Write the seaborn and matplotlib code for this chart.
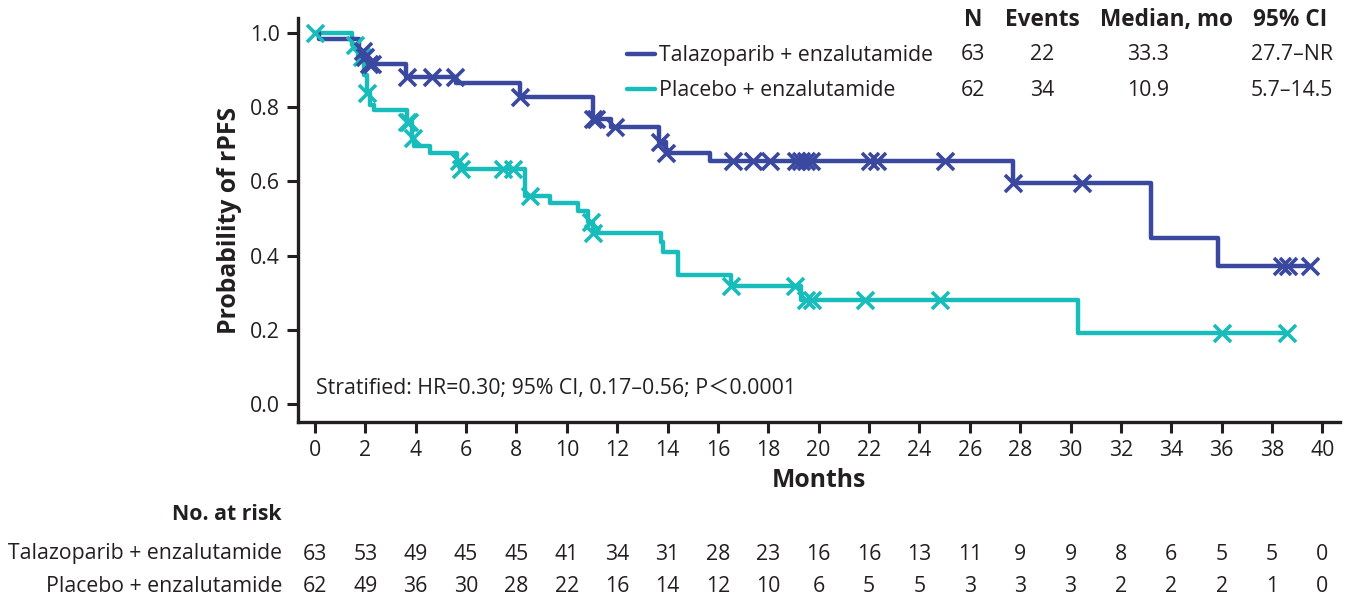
import numpy as np
import pandas as pd
import matplotlib
matplotlib.use("Agg")
import matplotlib.pyplot as plt
import matplotlib.transforms as mtransforms
from matplotlib.lines import Line2D
import seaborn as sns

# ---------------- data ----------------
arms = ["Talazoparib + enzalutamide", "Placebo + enzalutamide"]
colors = ["#3A48A0", "#17BCBB"]

tala_step_t = [0, 0.15, 1.75, 1.95, 2.1, 3.6, 5.6, 8.15, 11.05, 11.75, 13.65, 13.95, 15.7, 27.7, 33.2, 35.85]
tala_step_s = [1.0, 0.984, 0.952, 0.936, 0.916, 0.882, 0.864, 0.828, 0.768, 0.745, 0.705, 0.677, 0.655, 0.595, 0.447, 0.373]
tala_cens = [1.9, 2.0, 2.15, 2.25, 3.65, 4.65, 5.55, 8.15, 11.05, 11.15, 11.9, 13.7, 13.95,
             16.6, 17.4, 18.05, 19.1, 19.3, 19.5, 19.7, 22.05, 22.3, 25.0, 27.7, 30.45,
             38.4, 38.65, 39.5]

plac_step_t = [0, 1.45, 1.7, 1.95, 2.05, 2.2, 2.35, 3.65, 3.85, 3.95, 4.57, 5.63, 5.75,
               8.35, 9.33, 10.45, 10.85, 11.05, 13.75, 13.82, 14.43, 16.5, 19.3, 30.3]
plac_step_s = [1.0, 0.968, 0.935, 0.887, 0.839, 0.806, 0.792, 0.76, 0.717, 0.694, 0.676, 0.655, 0.633,
               0.561, 0.541, 0.52, 0.49, 0.462, 0.437, 0.41, 0.348, 0.318, 0.28, 0.19]
plac_cens = [0, 1.6, 1.85, 2.05, 3.65, 3.75, 3.9, 5.7, 5.8, 7.45, 7.85, 8.55, 10.95, 11.05,
             16.5, 19.05, 19.5, 19.75, 21.85, 24.8, 36.0, 38.6]

legend_N = ["63", "62"]
legend_events = ["22", "34"]
legend_median = ["33.3", "10.9"]
legend_ci = ["27.7\u2013NR", "5.7\u201314.5"]

risk_times = list(range(0, 41, 2))
tala_risk = [63, 53, 49, 45, 45, 41, 34, 31, 28, 23, 16, 16, 13, 11, 9, 9, 8, 6, 5, 5, 0]
plac_risk = [62, 49, 36, 30, 28, 22, 16, 14, 12, 10, 6, 5, 5, 3, 3, 3, 2, 2, 2, 1, 0]

yticks = [0.0, 0.2, 0.4, 0.6, 0.8, 1.0]
xticks = list(range(0, 41, 2))

stats_text = "Stratified: HR=0.30; 95% CI, 0.17\u20130.56; P\uFF1C0.0001"

# ---------------- build frames ----------------
def build(step_t, step_s, cens, arm):
    t = np.array(step_t, float)
    s = np.array(step_s, float)
    c = np.array(cens, float)
    end = max(c.max(), t.max())
    lt = np.append(t, end)
    ls = np.append(s, s[-1])
    idx = np.searchsorted(t, c, side="right") - 1
    cs = s[idx]
    line = pd.DataFrame({"time": lt, "surv": ls, "arm": arm})
    cen = pd.DataFrame({"time": c, "surv": cs, "arm": arm})
    return line, cen

l1, c1 = build(tala_step_t, tala_step_s, tala_cens, arms[0])
l2, c2 = build(plac_step_t, plac_step_s, plac_cens, arms[1])
lines_df = pd.concat([l1, l2], ignore_index=True)
cens_df = pd.concat([c1, c2], ignore_index=True)
pal = dict(zip(arms, colors))

# ---------------- style ----------------
sns.set_style("ticks")
plt.rcParams["font.family"] = ["Open Sans", "Noto Sans", "Noto Sans CJK SC", "DejaVu Sans"]
txt = "#231F20"
plt.rcParams["text.color"] = txt
plt.rcParams["axes.labelcolor"] = txt
plt.rcParams["xtick.color"] = txt
plt.rcParams["ytick.color"] = txt
FS = 15.3

fig = plt.figure(figsize=(13.5, 6.06), dpi=100)
ax = fig.add_axes([298 / 1350, 1 - 422 / 606, (1340 - 298) / 1350, (422 - 18) / 606])

# draw placebo first so talazoparib is on top
for arm in arms[::-1]:
    sns.lineplot(data=lines_df[lines_df.arm == arm], x="time", y="surv", color=pal[arm],
                 drawstyle="steps-post", estimator=None, sort=False, linewidth=3.2,
                 ax=ax, legend=False)
    sns.scatterplot(data=cens_df[cens_df.arm == arm], x="time", y="surv", color=pal[arm],
                    marker="x", s=150, linewidth=2.6, ax=ax, legend=False, zorder=3)

ax.set_xlim(-0.675, 40.7)
ax.set_ylim(-0.0485, 1.04)
ax.set_xticks(xticks)
ax.set_yticks(yticks)
ax.set_yticklabels([f"{v:.1f}" for v in yticks])
ax.tick_params(axis="both", length=8, width=2.2, labelsize=FS, pad=5)
for side in ["left", "bottom"]:
    ax.spines[side].set_linewidth(2.4)
    ax.spines[side].set_color(txt)
sns.despine(ax=ax)
ax.set_xlabel("Months", fontsize=17.8, fontweight="bold", labelpad=5)
ax.set_ylabel("Probability of rPFS", fontsize=17.8, fontweight="bold", labelpad=6)

ax.text(0.017, 0.084, stats_text, transform=ax.transAxes, fontsize=FS,
        ha="left", va="center")

# ---------------- legend with table ----------------
handles = [Line2D([0], [0], color=c, lw=3.2) for c in colors]
leg = ax.legend(handles, arms, loc="upper left", bbox_to_anchor=((627 - 298) / 1042, (422 - 45) / 404),
                frameon=False, fontsize=FS, handlelength=1.3, handletextpad=0.2,
                borderpad=0, borderaxespad=0, labelspacing=0.68)

def ax_x(px):
    return (px - 298) / 1042

def ax_y(py):
    return (422 - py) / 404

hdr_y = ax_y(20)
row_y = [ax_y(55), ax_y(90)]
cols = [(ax_x(973), ax_x(973), "N", legend_N), (ax_x(1042), ax_x(1042), "Events", legend_events),
        (ax_x(1166), ax_x(1148), "Median, mo", legend_median),
        (ax_x(1290), ax_x(1292), "95% CI", legend_ci)]
for hx, cx, head, vals in cols:
    ax.text(hx, hdr_y, head, transform=ax.transAxes, fontsize=16.3, fontweight="bold",
            ha="center", va="center", clip_on=False)
    for ry, v in zip(row_y, vals):
        ax.text(cx, ry, v, transform=ax.transAxes, fontsize=FS, ha="center", va="center",
                clip_on=False)

# ---------------- number at risk ----------------
blend = mtransforms.blended_transform_factory(ax.transData, fig.transFigure)
fig.text(282 / 1350, 1 - 515 / 606, "No. at risk", fontsize=FS, fontweight="bold",
         ha="right", va="center")
for ypx, arm, vals in [(554, arms[0], tala_risk), (587, arms[1], plac_risk)]:
    yf = 1 - ypx / 606
    fig.text(282 / 1350, yf, arm, fontsize=FS, ha="right", va="center")
    for t, v in zip(risk_times, vals):
        ax.text(t, yf, str(v), transform=blend, fontsize=FS, ha="center", va="center",
                clip_on=False)

fig.savefig("out.png", dpi=100)
